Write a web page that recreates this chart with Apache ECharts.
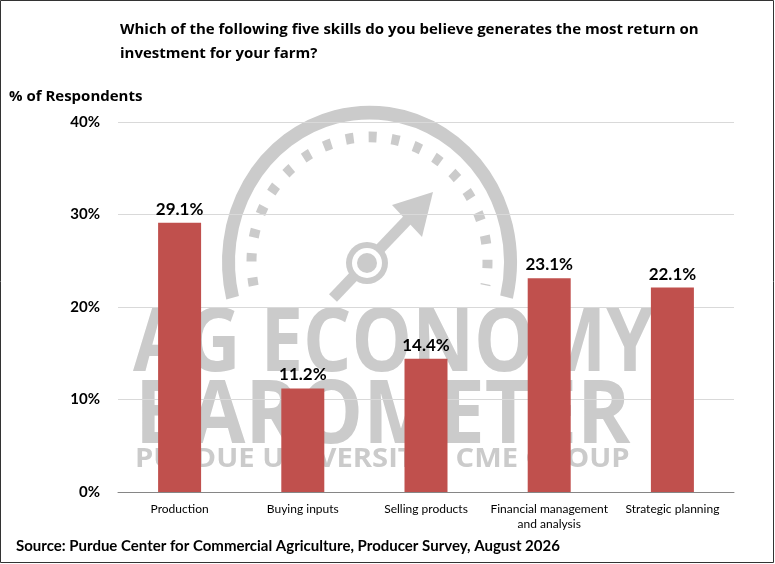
<!DOCTYPE html>
<html lang="en">
<head>
<meta charset="UTF-8">
<title>Skills return on investment</title>
<script src="https://cdn.jsdelivr.net/npm/echarts@6/dist/echarts.min.js"></script>
<style>
  html, body { margin: 0; padding: 0; background: #fff; }
</style>
</head>
<body>
<div id="main" style="width: 775px;height:564px;"></div>
<script>
  const categories = ['Production', 'Buying inputs', 'Selling products', 'Financial management\nand analysis', 'Strategic planning'];
  const shares = [29.1, 11.2, 14.4, 23.1, 22.1];
  const yTicks = [0, 10, 20, 30, 40];

  const font = 'Lato, "Open Sans", sans-serif';
  const wide = '"Open Sans", Lato, sans-serif';
  const wm = '#cbcbcb';
  const myChart = echarts.init(document.getElementById('main'));

  // watermark logo behind the bars (decoration only)
  const gauge = {cx: 369.5, cy: 262};
  const watermark = [
    {type: 'arc', z: 0, originX: gauge.cx, originY: gauge.cy, scaleY: 1.06,
      shape: {cx: gauge.cx, cy: gauge.cy, r: 141, startAngle: 2.9, endAngle: 6.52, clockwise: true},
      style: {stroke: wm, fill: null, lineWidth: 13}},
    {type: 'arc', z: 0, originX: gauge.cx, originY: gauge.cy, scaleY: 1.06,
      shape: {cx: gauge.cx, cy: gauge.cy, r: 118, startAngle: 2.95, endAngle: 6.47, clockwise: true},
      style: {stroke: wm, fill: null, lineWidth: 10, lineDash: [8, 15]}},
    {type: 'line', z: 0, shape: {x1: 333, y1: 298, x2: 415, y2: 212}, style: {stroke: wm, lineWidth: 11}},
    {type: 'polygon', z: 0, shape: {points: [[433, 192], [392, 205], [422, 237]]}, style: {fill: wm}},
    {type: 'circle', z: 0, shape: {cx: 367, cy: 263, r: 21}, style: {fill: wm}},
    {type: 'circle', z: 0, shape: {cx: 367, cy: 263, r: 15}, style: {fill: '#fff'}},
    {type: 'circle', z: 0, shape: {cx: 367, cy: 263, r: 10}, style: {fill: wm}},
    {type: 'text', z: 0, x: 133, y: 302, scaleX: 0.865,
      style: {text: 'AG ECONOMY', fill: wm, font: 'bold 88px "Open Sans", sans-serif'}},
    {type: 'text', z: 0, x: 135, y: 374, scaleX: 0.92,
      style: {text: 'BAROMETER', fill: wm, font: 'bold 88px "Open Sans", sans-serif'}},
    {type: 'text', z: 0, x: 135, y: 446, scaleX: 1.08,
      style: {text: 'PURDUE UNIVERSITY   CME GROUP', fill: wm, font: 'bold 27px "Open Sans", sans-serif'}}
  ];

  const option = {
    backgroundColor: '#fff',
    textStyle: {fontFamily: font},
    title: {
      text: 'Which of the following five skills do you believe generates the most return on\ninvestment for your farm?',
      left: 115,
      top: 13,
      textStyle: {fontSize: 15, fontWeight: 'bold', color: '#000', lineHeight: 24, fontFamily: wide}
    },
    graphic: watermark.concat([
      {type: 'text', left: 9, top: 89, z: 10,
        style: {text: '% of Respondents', fill: '#000', font: 'bold 15px ' + wide}},
      {type: 'text', left: 16, top: 539, z: 10,
        style: {text: 'Source: Purdue Center for Commercial Agriculture, Producer Survey, August 2026', fill: '#000', font: 'bold 15px ' + font}},
      {type: 'rect', z: 10, shape: {x: 0.5, y: 0.5, width: 773, height: 562},
        style: {fill: null, stroke: '#333', lineWidth: 1}}
    ]),
    grid: {left: 118, right: 41, top: 122, bottom: 72},
    xAxis: {
      type: 'category',
      data: categories,
      axisTick: {show: false},
      axisLine: {lineStyle: {color: '#868686', width: 1}},
      axisLabel: {color: '#000', fontSize: 12, margin: 10, lineHeight: 15, interval: 0}
    },
    yAxis: {
      type: 'value',
      min: yTicks[0],
      max: yTicks[yTicks.length - 1],
      interval: 10,
      axisLine: {show: false},
      axisTick: {show: false},
      splitLine: {lineStyle: {color: '#d9d9d9'}},
      axisLabel: {formatter: '{value}%', color: '#000', fontSize: 15, fontWeight: 'bold', margin: 18}
    },
    series: [
      {
        type: 'bar',
        data: shares,
        barWidth: 43,
        z: 5,
        itemStyle: {color: '#c0504d'},
        label: {
          show: true,
          position: 'top',
          distance: 5,
          formatter: '{c}%',
          color: '#000',
          fontSize: 17,
          fontWeight: 'bold'
        }
      }
    ]
  };
  myChart.setOption(option);
</script>
</body>
</html>
